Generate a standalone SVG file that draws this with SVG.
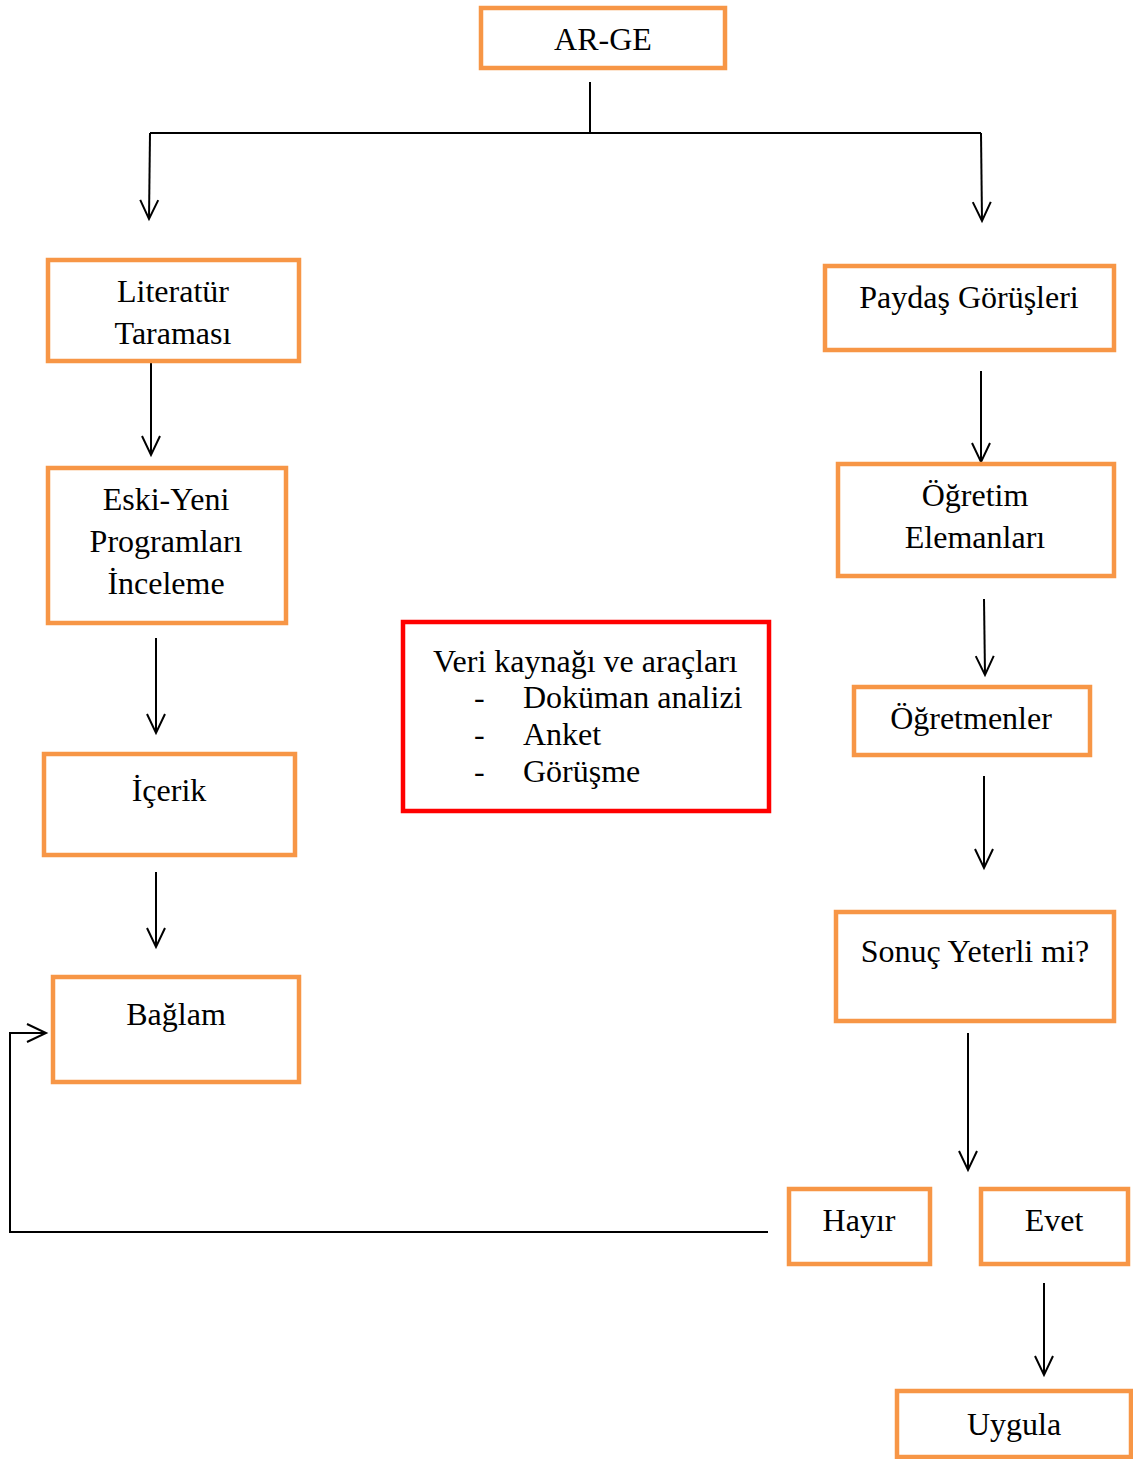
<svg xmlns="http://www.w3.org/2000/svg" width="1133" height="1459" viewBox="0 0 1133 1459">
<style>
.box{fill:#fff;stroke:#F79646;stroke-width:4.5}
.red{fill:#fff;stroke:#FF0000;stroke-width:4.5}
text{font-family:"Liberation Serif","Times New Roman",serif;font-size:32px;fill:#000}
.c{text-anchor:middle}
.ln{fill:none;stroke:#000;stroke-width:2}
</style>
<defs>
<marker id="ah" markerUnits="userSpaceOnUse" markerWidth="24" markerHeight="24" refX="20" refY="10" orient="auto" viewBox="0 0 24 20">
<path d="M1,1 L20,10 L1,19" fill="none" stroke="#000" stroke-width="2"/>
</marker>
</defs>
<rect width="1133" height="1459" fill="#fff"/>
<g id="connectors">
<path class="ln" d="M590,82 V133"/>
<path class="ln" d="M150,133 H981"/>
<path class="ln" d="M150,133 L149,219" marker-end="url(#ah)"/>
<path class="ln" d="M981,133 L982,221" marker-end="url(#ah)"/>
<path class="ln" d="M151,363 V455" marker-end="url(#ah)"/>
<path class="ln" d="M156,638 V733" marker-end="url(#ah)"/>
<path class="ln" d="M156,872 V947" marker-end="url(#ah)"/>
<path class="ln" d="M981,371 V462" marker-end="url(#ah)"/>
<path class="ln" d="M984,599 L985,675" marker-end="url(#ah)"/>
<path class="ln" d="M984,776 V868" marker-end="url(#ah)"/>
<path class="ln" d="M968,1033 V1170" marker-end="url(#ah)"/>
<path class="ln" d="M1044,1283 V1375" marker-end="url(#ah)"/>
<path class="ln" d="M768,1232 H10 V1033 H46" marker-end="url(#ah)"/>
</g>
<g id="arge"><rect class="box" x="481" y="8" width="244" height="60"/><text class="c" x="603" y="50">AR-GE</text></g>
<g id="literatur"><rect class="box" x="48" y="260" width="251" height="101"/><text class="c" x="173" y="302">Literatür</text><text class="c" x="173" y="344">Taraması</text></g>
<g id="eskiyeni"><rect class="box" x="48" y="468" width="238" height="155"/><text class="c" x="166" y="510">Eski-Yeni</text><text class="c" x="166" y="552">Programları</text><text class="c" x="166" y="594">İnceleme</text></g>
<g id="icerik"><rect class="box" x="44" y="754" width="251" height="101"/><text class="c" x="169" y="801">İçerik</text></g>
<g id="baglam"><rect class="box" x="53" y="977" width="246" height="105"/><text class="c" x="176" y="1025">Bağlam</text></g>
<g id="veri"><rect class="red" x="403" y="622" width="366" height="189"/>
<text x="433" y="672">Veri kaynağı ve araçları</text>
<text x="474" y="708">-</text><text x="523" y="708">Doküman analizi</text>
<text x="474" y="745">-</text><text x="523" y="745">Anket</text>
<text x="474" y="782">-</text><text x="523" y="782">Görüşme</text>
</g>
<g id="paydas"><rect class="box" x="825" y="266" width="289" height="84"/><text class="c" x="969" y="308">Paydaş Görüşleri</text></g>
<g id="ogretim"><rect class="box" x="838" y="464" width="276" height="112"/><text class="c" x="975" y="506">Öğretim</text><text class="c" x="975" y="548">Elemanları</text></g>
<g id="ogretmenler"><rect class="box" x="854" y="687" width="236" height="68"/><text class="c" x="971" y="729">Öğretmenler</text></g>
<g id="sonuc"><rect class="box" x="836" y="912" width="278" height="109"/><text class="c" x="975" y="962">Sonuç Yeterli mi?</text></g>
<g id="hayir"><rect class="box" x="789" y="1189" width="141" height="75"/><text class="c" x="859" y="1231">Hayır</text></g>
<g id="evet"><rect class="box" x="981" y="1189" width="147" height="75"/><text class="c" x="1054" y="1231">Evet</text></g>
<g id="uygula"><rect class="box" x="897" y="1391" width="234" height="66"/><text class="c" x="1014" y="1435">Uygula</text></g>
</svg>
